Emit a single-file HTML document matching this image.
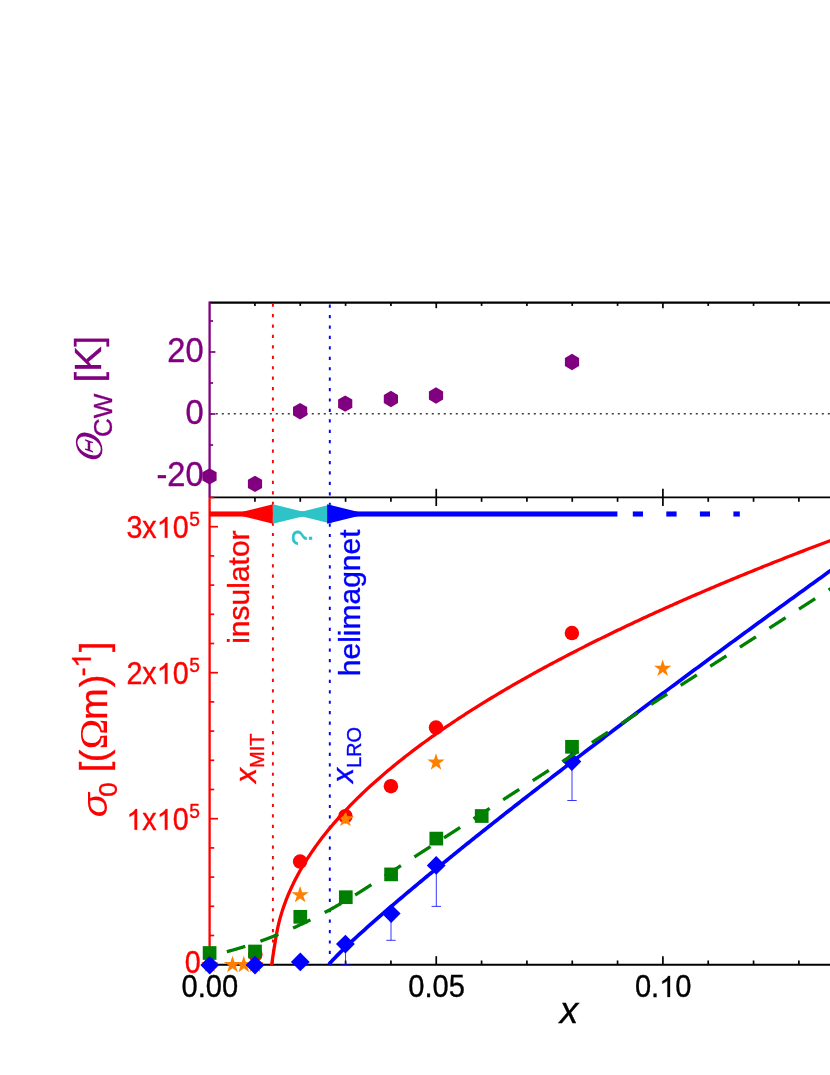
<!DOCTYPE html>
<html><head><meta charset="utf-8"><title>figure</title>
<style>html,body{margin:0;padding:0;background:#fff;}body{width:830px;height:1075px;overflow:hidden;font-family:"Liberation Sans",sans-serif;}svg{display:block;position:absolute;left:0;top:0;will-change:transform;}text{font-family:"Liberation Sans",sans-serif;}.se{font-family:"Liberation Serif",serif;}</style></head><body>
<svg width="830" height="1075" viewBox="0 0 830 1075">
<rect x="0" y="0" width="830" height="1075" fill="#ffffff"/>
<line x1="209.6" y1="302.6" x2="830" y2="302.6" stroke="#000" stroke-width="2.3"/>
<line x1="254.93" y1="302.6" x2="254.93" y2="305.9" stroke="#000" stroke-width="1.7"/>
<line x1="300.26" y1="302.6" x2="300.26" y2="305.9" stroke="#000" stroke-width="1.7"/>
<line x1="345.59" y1="302.6" x2="345.59" y2="305.9" stroke="#000" stroke-width="1.7"/>
<line x1="390.92" y1="302.6" x2="390.92" y2="305.9" stroke="#000" stroke-width="1.7"/>
<line x1="436.25" y1="302.6" x2="436.25" y2="308.2" stroke="#000" stroke-width="1.7"/>
<line x1="481.58" y1="302.6" x2="481.58" y2="305.9" stroke="#000" stroke-width="1.7"/>
<line x1="526.91" y1="302.6" x2="526.91" y2="305.9" stroke="#000" stroke-width="1.7"/>
<line x1="572.24" y1="302.6" x2="572.24" y2="305.9" stroke="#000" stroke-width="1.7"/>
<line x1="617.57" y1="302.6" x2="617.57" y2="305.9" stroke="#000" stroke-width="1.7"/>
<line x1="662.90" y1="302.6" x2="662.90" y2="308.2" stroke="#000" stroke-width="1.7"/>
<line x1="708.23" y1="302.6" x2="708.23" y2="305.9" stroke="#000" stroke-width="1.7"/>
<line x1="753.56" y1="302.6" x2="753.56" y2="305.9" stroke="#000" stroke-width="1.7"/>
<line x1="798.89" y1="302.6" x2="798.89" y2="305.9" stroke="#000" stroke-width="1.7"/>
<line x1="844.22" y1="302.6" x2="844.22" y2="305.9" stroke="#000" stroke-width="1.7"/>
<line x1="209.6" y1="497.3" x2="830" y2="497.3" stroke="#000" stroke-width="1.8"/>
<line x1="254.93" y1="497.3" x2="254.93" y2="501.8" stroke="#000" stroke-width="1.7"/>
<line x1="300.26" y1="497.3" x2="300.26" y2="501.8" stroke="#000" stroke-width="1.7"/>
<line x1="345.59" y1="497.3" x2="345.59" y2="501.8" stroke="#000" stroke-width="1.7"/>
<line x1="390.92" y1="497.3" x2="390.92" y2="501.8" stroke="#000" stroke-width="1.7"/>
<line x1="436.25" y1="488.8" x2="436.25" y2="506.0" stroke="#000" stroke-width="1.7"/>
<line x1="481.58" y1="497.3" x2="481.58" y2="501.8" stroke="#000" stroke-width="1.7"/>
<line x1="526.91" y1="497.3" x2="526.91" y2="501.8" stroke="#000" stroke-width="1.7"/>
<line x1="572.24" y1="497.3" x2="572.24" y2="501.8" stroke="#000" stroke-width="1.7"/>
<line x1="617.57" y1="497.3" x2="617.57" y2="501.8" stroke="#000" stroke-width="1.7"/>
<line x1="662.90" y1="488.8" x2="662.90" y2="506.0" stroke="#000" stroke-width="1.7"/>
<line x1="708.23" y1="497.3" x2="708.23" y2="501.8" stroke="#000" stroke-width="1.7"/>
<line x1="753.56" y1="497.3" x2="753.56" y2="501.8" stroke="#000" stroke-width="1.7"/>
<line x1="798.89" y1="497.3" x2="798.89" y2="501.8" stroke="#000" stroke-width="1.7"/>
<line x1="844.22" y1="497.3" x2="844.22" y2="501.8" stroke="#000" stroke-width="1.7"/>
<line x1="209.6" y1="964.7" x2="830" y2="964.7" stroke="#000" stroke-width="2.0"/>
<line x1="254.93" y1="964.7" x2="254.93" y2="960.5" stroke="#000" stroke-width="1.7"/>
<line x1="300.26" y1="964.7" x2="300.26" y2="960.5" stroke="#000" stroke-width="1.7"/>
<line x1="345.59" y1="964.7" x2="345.59" y2="960.5" stroke="#000" stroke-width="1.7"/>
<line x1="390.92" y1="964.7" x2="390.92" y2="960.5" stroke="#000" stroke-width="1.7"/>
<line x1="436.25" y1="964.7" x2="436.25" y2="956.2" stroke="#000" stroke-width="1.7"/>
<line x1="481.58" y1="964.7" x2="481.58" y2="960.5" stroke="#000" stroke-width="1.7"/>
<line x1="526.91" y1="964.7" x2="526.91" y2="960.5" stroke="#000" stroke-width="1.7"/>
<line x1="572.24" y1="964.7" x2="572.24" y2="960.5" stroke="#000" stroke-width="1.7"/>
<line x1="617.57" y1="964.7" x2="617.57" y2="960.5" stroke="#000" stroke-width="1.7"/>
<line x1="662.90" y1="964.7" x2="662.90" y2="956.2" stroke="#000" stroke-width="1.7"/>
<line x1="708.23" y1="964.7" x2="708.23" y2="960.5" stroke="#000" stroke-width="1.7"/>
<line x1="753.56" y1="964.7" x2="753.56" y2="960.5" stroke="#000" stroke-width="1.7"/>
<line x1="798.89" y1="964.7" x2="798.89" y2="960.5" stroke="#000" stroke-width="1.7"/>
<line x1="844.22" y1="964.7" x2="844.22" y2="960.5" stroke="#000" stroke-width="1.7"/>
<line x1="209.6" y1="301.5" x2="209.6" y2="498.3" stroke="#800080" stroke-width="2.3"/>
<line x1="209.6" y1="498.3" x2="209.6" y2="965.7" stroke="#ff0000" stroke-width="2.3"/>
<line x1="209.6" y1="476.00" x2="215.4" y2="476.00" stroke="#800080" stroke-width="1.7"/>
<line x1="209.6" y1="445.00" x2="213.1" y2="445.00" stroke="#800080" stroke-width="1.7"/>
<line x1="209.6" y1="414.00" x2="215.4" y2="414.00" stroke="#800080" stroke-width="1.7"/>
<line x1="209.6" y1="383.00" x2="213.1" y2="383.00" stroke="#800080" stroke-width="1.7"/>
<line x1="209.6" y1="352.00" x2="215.4" y2="352.00" stroke="#800080" stroke-width="1.7"/>
<line x1="209.6" y1="321.00" x2="213.1" y2="321.00" stroke="#800080" stroke-width="1.7"/>
<line x1="209.6" y1="964.70" x2="218.0" y2="964.70" stroke="#ff0000" stroke-width="1.7"/>
<line x1="209.6" y1="935.50" x2="214.2" y2="935.50" stroke="#ff0000" stroke-width="1.7"/>
<line x1="209.6" y1="906.30" x2="214.2" y2="906.30" stroke="#ff0000" stroke-width="1.7"/>
<line x1="209.6" y1="877.10" x2="214.2" y2="877.10" stroke="#ff0000" stroke-width="1.7"/>
<line x1="209.6" y1="847.90" x2="214.2" y2="847.90" stroke="#ff0000" stroke-width="1.7"/>
<line x1="209.6" y1="818.70" x2="218.0" y2="818.70" stroke="#ff0000" stroke-width="1.7"/>
<line x1="209.6" y1="789.50" x2="214.2" y2="789.50" stroke="#ff0000" stroke-width="1.7"/>
<line x1="209.6" y1="760.30" x2="214.2" y2="760.30" stroke="#ff0000" stroke-width="1.7"/>
<line x1="209.6" y1="731.10" x2="214.2" y2="731.10" stroke="#ff0000" stroke-width="1.7"/>
<line x1="209.6" y1="701.90" x2="214.2" y2="701.90" stroke="#ff0000" stroke-width="1.7"/>
<line x1="209.6" y1="672.70" x2="218.0" y2="672.70" stroke="#ff0000" stroke-width="1.7"/>
<line x1="209.6" y1="643.50" x2="214.2" y2="643.50" stroke="#ff0000" stroke-width="1.7"/>
<line x1="209.6" y1="614.30" x2="214.2" y2="614.30" stroke="#ff0000" stroke-width="1.7"/>
<line x1="209.6" y1="585.10" x2="214.2" y2="585.10" stroke="#ff0000" stroke-width="1.7"/>
<line x1="209.6" y1="555.90" x2="214.2" y2="555.90" stroke="#ff0000" stroke-width="1.7"/>
<line x1="209.6" y1="526.70" x2="218.0" y2="526.70" stroke="#ff0000" stroke-width="1.7"/>
<line x1="209.6" y1="497.50" x2="214.2" y2="497.50" stroke="#ff0000" stroke-width="1.7"/>
<line x1="209.6" y1="413.8" x2="830" y2="413.8" stroke="#3a3a3a" stroke-width="1.6" stroke-dasharray="2 4" stroke-dashoffset="-0.2"/>
<line x1="272.9" y1="303.6" x2="272.9" y2="965" stroke="#ff0000" stroke-width="1.9" stroke-dasharray="3.2 7.223"/>
<line x1="329.8" y1="304.6" x2="329.8" y2="965" stroke="#0000ff" stroke-width="1.9" stroke-dasharray="3.2 7.223"/>
<g id="markers">
<circle cx="255.3" cy="954.6" r="7.25" fill="#ff0000"/>
<circle cx="300.1" cy="861.6" r="7.25" fill="#ff0000"/>
<circle cx="345.4" cy="816.2" r="7.25" fill="#ff0000"/>
<circle cx="390.9" cy="786.2" r="7.25" fill="#ff0000"/>
<circle cx="436.0" cy="727.6" r="7.25" fill="#ff0000"/>
<circle cx="571.9" cy="633.1" r="7.25" fill="#ff0000"/>
<polygon points="209.80,955.60 207.76,961.89 201.15,961.89 206.49,965.77 204.45,972.06 209.80,968.18 215.15,972.06 213.11,965.77 218.45,961.89 211.84,961.89" fill="#ff8000"/>
<polygon points="232.50,955.70 230.46,961.99 223.85,961.99 229.19,965.87 227.15,972.16 232.50,968.28 237.85,972.16 235.81,965.87 241.15,961.99 234.54,961.99" fill="#ff8000"/>
<polygon points="243.80,955.70 241.76,961.99 235.15,961.99 240.49,965.87 238.45,972.16 243.80,968.28 249.15,972.16 247.11,965.87 252.45,961.99 245.84,961.99" fill="#ff8000"/>
<polygon points="255.10,955.60 253.06,961.89 246.45,961.89 251.79,965.77 249.75,972.06 255.10,968.18 260.45,972.06 258.41,965.77 263.75,961.89 257.14,961.89" fill="#ff8000"/>
<polygon points="300.10,885.90 298.06,892.19 291.45,892.19 296.79,896.07 294.75,902.36 300.10,898.48 305.45,902.36 303.41,896.07 308.75,892.19 302.14,892.19" fill="#ff8000"/>
<polygon points="345.40,809.90 343.36,816.19 336.75,816.19 342.09,820.07 340.05,826.36 345.40,822.48 350.75,826.36 348.71,820.07 354.05,816.19 347.44,816.19" fill="#ff8000"/>
<polygon points="436.00,753.30 433.96,759.59 427.35,759.59 432.69,763.47 430.65,769.76 436.00,765.88 441.35,769.76 439.31,763.47 444.65,759.59 438.04,759.59" fill="#ff8000"/>
<polygon points="662.70,659.50 660.66,665.79 654.05,665.79 659.39,669.67 657.35,675.96 662.70,672.08 668.05,675.96 666.01,669.67 671.35,665.79 664.74,665.79" fill="#ff8000"/>
<rect x="202.75" y="946.15" width="13.7" height="13.7" fill="#008000"/>
<rect x="248.15" y="944.65" width="13.7" height="13.7" fill="#008000"/>
<rect x="293.45" y="909.95" width="13.7" height="13.7" fill="#008000"/>
<rect x="338.95" y="890.35" width="13.7" height="13.7" fill="#008000"/>
<rect x="384.25" y="867.55" width="13.7" height="13.7" fill="#008000"/>
<rect x="429.45" y="831.75" width="13.7" height="13.7" fill="#008000"/>
<rect x="474.85" y="809.15" width="13.7" height="13.7" fill="#008000"/>
<rect x="565.15" y="739.95" width="13.7" height="13.7" fill="#008000"/>
<path d="M345.55 944.1V964.7M340.85 964.7H350.25" stroke="#0000ff" stroke-opacity="0.78" stroke-width="1.0" fill="none"/>
<path d="M391.0 913.6V940.3M386.3 940.3H395.7" stroke="#0000ff" stroke-opacity="0.78" stroke-width="1.0" fill="none"/>
<path d="M436.3 865.4V906.4M431.6 906.4H441.0" stroke="#0000ff" stroke-opacity="0.78" stroke-width="1.0" fill="none"/>
<path d="M572.0 761.6V800.5M567.3 800.5H576.7" stroke="#0000ff" stroke-opacity="0.78" stroke-width="1.0" fill="none"/>
<polygon points="209.7,955.7 219.1,965.1 209.7,974.5 200.29999999999998,965.1" fill="#0000ff"/>
<polygon points="255.0,955.7 264.4,965.1 255.0,974.5 245.6,965.1" fill="#0000ff"/>
<polygon points="300.3,952.5 309.7,961.9 300.3,971.3 290.90000000000003,961.9" fill="#0000ff"/>
<polygon points="345.4,934.7 354.79999999999995,944.1 345.4,953.5 336.0,944.1" fill="#0000ff"/>
<polygon points="391.2,904.2 400.59999999999997,913.6 391.2,923.0 381.8,913.6" fill="#0000ff"/>
<polygon points="436.2,856.0 445.59999999999997,865.4 436.2,874.8 426.8,865.4" fill="#0000ff"/>
<polygon points="571.9,752.2 581.3,761.6 571.9,771.0 562.5,761.6" fill="#0000ff"/>
</g>
<path d="M271.70 965.10 L271.76 964.30 L271.87 963.50 L271.98 962.70 L272.10 961.90 L272.21 961.10 L272.32 960.30 L272.44 959.50 L272.56 958.70 L272.67 957.90 L272.79 957.10 L272.91 956.30 L273.03 955.50 L273.15 954.70 L273.27 953.90 L273.39 953.10 L273.51 952.30 L273.63 951.50 L273.76 950.70 L273.88 949.90 L274.01 949.10 L274.13 948.30 L274.26 947.50 L274.39 946.70 L274.52 945.90 L274.65 945.10 L274.78 944.30 L274.91 943.50 L275.04 942.70 L275.17 941.90 L275.30 941.10 L275.44 940.30 L275.57 939.50 L275.71 938.70 L275.84 937.90 L275.98 937.10 L276.12 936.30 L276.26 935.50 L276.56 933.80 L277.06 931.16 L277.56 928.71 L278.06 926.42 L278.56 924.26 L279.06 922.22 L279.56 920.27 L280.06 918.41 L280.56 916.62 L281.06 914.90 L281.56 913.23 L282.06 911.62 L282.56 910.06 L283.06 908.54 L283.56 907.06 L284.06 905.63 L284.56 904.22 L285.06 902.85 L285.56 901.51 L286.06 900.20 L286.56 898.91 L287.06 897.65 L287.56 896.42 L288.06 895.20 L288.56 894.01 L289.06 892.84 L289.56 891.68 L290.06 890.55 L290.56 889.43 L291.06 888.33 L291.56 887.25 L292.06 886.18 L292.56 885.13 L293.06 884.09 L293.56 883.06 L294.06 882.05 L294.56 881.05 L295.06 880.06 L295.56 879.08 L296.06 878.12 L296.56 877.16 L297.06 876.22 L297.56 875.28 L298.06 874.36 L298.56 873.44 L299.06 872.54 L299.56 871.64 L300.06 870.76 L302.06 867.29 L304.06 863.95 L306.06 860.71 L308.06 857.58 L310.06 854.54 L312.06 851.58 L314.06 848.70 L316.06 845.89 L318.06 843.14 L320.06 840.46 L322.06 837.84 L324.06 835.27 L326.06 832.75 L328.06 830.29 L330.06 827.86 L332.06 825.48 L334.06 823.14 L336.06 820.84 L338.06 818.58 L340.06 816.35 L342.06 814.16 L344.06 812.00 L346.06 809.87 L348.06 807.77 L350.06 805.70 L352.06 803.65 L354.06 801.63 L356.06 799.64 L358.06 797.67 L360.06 795.73 L362.06 793.80 L364.06 791.90 L366.06 790.02 L368.06 788.16 L370.06 786.32 L372.06 784.51 L374.06 782.70 L376.06 780.92 L378.06 779.16 L380.06 777.41 L382.06 775.68 L384.06 773.96 L386.06 772.26 L388.06 770.57 L390.06 768.90 L392.06 767.25 L394.06 765.61 L396.06 763.98 L398.06 762.37 L400.06 760.77 L402.06 759.18 L404.06 757.60 L406.06 756.04 L408.06 754.49 L410.06 752.95 L412.06 751.42 L414.06 749.90 L416.06 748.39 L418.06 746.90 L420.06 745.41 L422.06 743.94 L424.06 742.47 L426.06 741.02 L428.06 739.57 L430.06 738.14 L432.06 736.71 L434.06 735.29 L436.06 733.88 L438.06 732.48 L440.06 731.09 L442.06 729.71 L444.06 728.34 L446.06 726.97 L448.06 725.61 L450.06 724.26 L452.06 722.92 L454.06 721.58 L456.06 720.25 L458.06 718.93 L460.06 717.62 L462.06 716.31 L464.06 715.02 L466.06 713.72 L468.06 712.44 L470.06 711.16 L472.06 709.89 L474.06 708.62 L476.06 707.36 L478.06 706.11 L480.06 704.86 L482.06 703.62 L484.06 702.39 L486.06 701.16 L488.06 699.94 L490.06 698.72 L492.06 697.51 L494.06 696.30 L496.06 695.10 L498.06 693.91 L500.06 692.72 L502.06 691.53 L504.06 690.36 L506.06 689.18 L508.06 688.01 L510.06 686.85 L512.06 685.69 L514.06 684.54 L516.06 683.39 L518.06 682.24 L520.06 681.11 L522.06 679.97 L524.06 678.84 L526.06 677.72 L528.06 676.59 L530.06 675.48 L532.06 674.37 L534.06 673.26 L536.06 672.16 L538.06 671.06 L540.06 669.96 L542.06 668.87 L544.06 667.78 L546.06 666.70 L548.06 665.62 L550.06 664.55 L552.06 663.48 L554.06 662.41 L556.06 661.35 L558.06 660.29 L560.06 659.23 L562.06 658.18 L564.06 657.13 L566.06 656.09 L568.06 655.05 L570.06 654.01 L572.06 652.98 L574.06 651.95 L576.06 650.92 L578.06 649.90 L580.06 648.88 L582.06 647.86 L584.06 646.85 L586.06 645.84 L588.06 644.83 L590.06 643.83 L592.06 642.83 L594.06 641.83 L596.06 640.84 L598.06 639.85 L600.06 638.86 L602.06 637.88 L604.06 636.90 L606.06 635.92 L608.06 634.94 L610.06 633.97 L612.06 633.00 L614.06 632.03 L616.06 631.07 L618.06 630.11 L620.06 629.15 L622.06 628.20 L624.06 627.24 L626.06 626.29 L628.06 625.35 L630.06 624.40 L632.06 623.46 L634.06 622.52 L636.06 621.59 L638.06 620.65 L640.06 619.72 L642.06 618.79 L644.06 617.87 L646.06 616.94 L648.06 616.02 L650.06 615.10 L652.06 614.19 L654.06 613.27 L656.06 612.36 L658.06 611.45 L660.06 610.55 L662.06 609.64 L664.06 608.74 L666.06 607.84 L668.06 606.95 L670.06 606.05 L672.06 605.16 L674.06 604.27 L676.06 603.38 L678.06 602.50 L680.06 601.61 L682.06 600.73 L684.06 599.85 L686.06 598.98 L688.06 598.10 L690.06 597.23 L692.06 596.36 L694.06 595.49 L696.06 594.62 L698.06 593.76 L700.06 592.90 L702.06 592.04 L704.06 591.18 L706.06 590.32 L708.06 589.47 L710.06 588.62 L712.06 587.77 L714.06 586.92 L716.06 586.07 L718.06 585.23 L720.06 584.39 L722.06 583.55 L724.06 582.71 L726.06 581.87 L728.06 581.04 L730.06 580.20 L732.06 579.37 L734.06 578.54 L736.06 577.72 L738.06 576.89 L740.06 576.07 L742.06 575.24 L744.06 574.42 L746.06 573.61 L748.06 572.79 L750.06 571.97 L752.06 571.16 L754.06 570.35 L756.06 569.54 L758.06 568.73 L760.06 567.93 L762.06 567.12 L764.06 566.32 L766.06 565.52 L768.06 564.72 L770.06 563.92 L772.06 563.12 L774.06 562.33 L776.06 561.53 L778.06 560.74 L780.06 559.95 L782.06 559.16 L784.06 558.38 L786.06 557.59 L788.06 556.81 L790.06 556.03 L792.06 555.24 L794.06 554.47 L796.06 553.69 L798.06 552.91 L800.06 552.14 L802.06 551.36 L804.06 550.59 L806.06 549.82 L808.06 549.05 L810.06 548.29 L812.06 547.52 L814.06 546.76 L816.06 545.99 L818.06 545.23 L820.06 544.47 L822.06 543.71 L824.06 542.95 L826.06 542.20 L828.06 541.44 L830.06 540.69 L832.06 539.94 L834.06 539.19" fill="none" stroke="#ff0000" stroke-width="3.3" stroke-linejoin="round"/>
<path d="M328.80 964.70 L330.80 962.22 L332.80 960.01 L334.80 957.90 L336.80 955.84 L338.80 953.83 L340.80 951.85 L342.80 949.90 L344.80 947.97 L346.80 946.06 L348.80 944.17 L350.80 942.30 L352.80 940.44 L354.80 938.59 L356.80 936.76 L358.80 934.93 L360.80 933.12 L362.80 931.31 L364.80 929.51 L366.80 927.72 L368.80 925.94 L370.80 924.17 L372.80 922.40 L374.80 920.64 L376.80 918.89 L378.80 917.14 L380.80 915.40 L382.80 913.67 L384.80 911.94 L386.80 910.21 L388.80 908.49 L390.80 906.77 L392.80 905.06 L394.80 903.36 L396.80 901.65 L398.80 899.95 L400.80 898.26 L402.80 896.57 L404.80 894.88 L406.80 893.20 L408.80 891.52 L410.80 889.84 L412.80 888.17 L414.80 886.50 L416.80 884.84 L418.80 883.17 L420.80 881.51 L422.80 879.86 L424.80 878.20 L426.80 876.55 L428.80 874.90 L430.80 873.26 L432.80 871.62 L434.80 869.98 L436.80 868.34 L438.80 866.70 L440.80 865.07 L442.80 863.44 L444.80 861.81 L446.80 860.19 L448.80 858.56 L450.80 856.94 L452.80 855.32 L454.80 853.71 L456.80 852.09 L458.80 850.48 L460.80 848.87 L462.80 847.26 L464.80 845.66 L466.80 844.05 L468.80 842.45 L470.80 840.85 L472.80 839.25 L474.80 837.65 L476.80 836.06 L478.80 834.46 L480.80 832.87 L482.80 831.28 L484.80 829.69 L486.80 828.11 L488.80 826.52 L490.80 824.94 L492.80 823.36 L494.80 821.78 L496.80 820.20 L498.80 818.62 L500.80 817.05 L502.80 815.48 L504.80 813.90 L506.80 812.33 L508.80 810.76 L510.80 809.20 L512.80 807.63 L514.80 806.06 L516.80 804.50 L518.80 802.94 L520.80 801.38 L522.80 799.82 L524.80 798.26 L526.80 796.70 L528.80 795.15 L530.80 793.59 L532.80 792.04 L534.80 790.49 L536.80 788.94 L538.80 787.39 L540.80 785.84 L542.80 784.30 L544.80 782.75 L546.80 781.21 L548.80 779.66 L550.80 778.12 L552.80 776.58 L554.80 775.04 L556.80 773.50 L558.80 771.97 L560.80 770.43 L562.80 768.89 L564.80 767.36 L566.80 765.83 L568.80 764.29 L570.80 762.76 L572.80 761.23 L574.80 759.70 L576.80 758.18 L578.80 756.65 L580.80 755.12 L582.80 753.60 L584.80 752.08 L586.80 750.55 L588.80 749.03 L590.80 747.51 L592.80 745.99 L594.80 744.47 L596.80 742.95 L598.80 741.44 L600.80 739.92 L602.80 738.41 L604.80 736.89 L606.80 735.38 L608.80 733.87 L610.80 732.35 L612.80 730.84 L614.80 729.33 L616.80 727.83 L618.80 726.32 L620.80 724.81 L622.80 723.30 L624.80 721.80 L626.80 720.29 L628.80 718.79 L630.80 717.29 L632.80 715.79 L634.80 714.28 L636.80 712.78 L638.80 711.28 L640.80 709.78 L642.80 708.29 L644.80 706.79 L646.80 705.29 L648.80 703.80 L650.80 702.30 L652.80 700.81 L654.80 699.31 L656.80 697.82 L658.80 696.33 L660.80 694.84 L662.80 693.35 L664.80 691.86 L666.80 690.37 L668.80 688.88 L670.80 687.39 L672.80 685.91 L674.80 684.42 L676.80 682.94 L678.80 681.45 L680.80 679.97 L682.80 678.49 L684.80 677.00 L686.80 675.52 L688.80 674.04 L690.80 672.56 L692.80 671.08 L694.80 669.60 L696.80 668.12 L698.80 666.64 L700.80 665.17 L702.80 663.69 L704.80 662.22 L706.80 660.74 L708.80 659.27 L710.80 657.79 L712.80 656.32 L714.80 654.85 L716.80 653.37 L718.80 651.90 L720.80 650.43 L722.80 648.96 L724.80 647.49 L726.80 646.02 L728.80 644.56 L730.80 643.09 L732.80 641.62 L734.80 640.16 L736.80 638.69 L738.80 637.22 L740.80 635.76 L742.80 634.30 L744.80 632.83 L746.80 631.37 L748.80 629.91 L750.80 628.45 L752.80 626.98 L754.80 625.52 L756.80 624.06 L758.80 622.61 L760.80 621.15 L762.80 619.69 L764.80 618.23 L766.80 616.77 L768.80 615.32 L770.80 613.86 L772.80 612.41 L774.80 610.95 L776.80 609.50 L778.80 608.04 L780.80 606.59 L782.80 605.14 L784.80 603.68 L786.80 602.23 L788.80 600.78 L790.80 599.33 L792.80 597.88 L794.80 596.43 L796.80 594.98 L798.80 593.53 L800.80 592.08 L802.80 590.64 L804.80 589.19 L806.80 587.74 L808.80 586.30 L810.80 584.85 L812.80 583.41 L814.80 581.96 L816.80 580.52 L818.80 579.07 L820.80 577.63 L822.80 576.19 L824.80 574.75 L826.80 573.31 L828.80 571.86 L830.80 570.42 L832.80 568.98 L834.80 567.54" fill="none" stroke="#0000ff" stroke-width="3.7" stroke-linejoin="round"/>
<path d="M209.60 955.87 L210.10 955.76 L210.60 955.65 L211.10 955.54 L211.60 955.43 L212.10 955.32 L212.60 955.20 L213.10 955.09 L213.60 954.98 L214.10 954.86 L214.60 954.74 L215.10 954.63 L215.60 954.51 L216.10 954.39 L216.60 954.27 L217.10 954.15 L217.60 954.03 L218.10 953.91 L218.60 953.79 L219.10 953.67 L219.60 953.55 L220.10 953.42 L220.60 953.30 L221.10 953.17 L221.60 953.05 L222.10 952.92 L222.60 952.79 L223.10 952.67 L223.60 952.54 L224.10 952.41 L224.60 952.28 L225.10 952.15 L225.60 952.02 L226.10 951.89 L226.60 951.75 L227.10 951.62 L227.60 951.49 L228.10 951.35 L228.60 951.22 L229.10 951.08 L229.60 950.95 L230.10 950.81 L230.60 950.67 L231.10 950.53 L231.60 950.39 L232.10 950.25 L232.60 950.11 L233.10 949.97 L233.60 949.83 L234.10 949.69 L234.60 949.54 L235.10 949.40 L235.60 949.25 L236.10 949.11 L236.60 948.96 L237.10 948.81 L237.60 948.67 L238.10 948.52 L238.60 948.37 L239.10 948.22 L239.60 948.07 L240.10 947.92 L240.60 947.77 L241.10 947.62 L241.60 947.46 L242.10 947.31 L242.60 947.15 L243.10 947.00 L243.60 946.84 L244.10 946.69 L244.60 946.53 L245.10 946.37 L245.60 946.21 L246.10 946.06 L246.60 945.90 L247.10 945.73 L247.60 945.57 L248.10 945.41 L248.60 945.25 L249.10 945.09 L249.60 944.92 L250.10 944.76 L250.60 944.59 L251.10 944.43 L251.60 944.26 L252.10 944.09 L252.60 943.92 L253.10 943.76 L253.60 943.59 L254.10 943.42 L254.60 943.25 L255.10 943.07 L255.60 942.90 L256.10 942.73 L256.60 942.56 L257.10 942.38 L257.60 942.21 L258.10 942.03 L258.60 941.85 L259.10 941.68 L259.60 941.50 L260.10 941.32 L260.60 941.14 L261.10 940.96 L261.60 940.78 L262.10 940.60 L262.60 940.42 L263.10 940.24 L263.60 940.05 L264.10 939.87 L264.60 939.69 L265.10 939.50 L265.60 939.31 L266.10 939.13 L266.60 938.94 L267.10 938.75 L267.60 938.56 L268.10 938.38 L268.60 938.19 L269.10 938.00 L269.60 937.80 L270.10 937.61 L270.60 937.42 L271.10 937.23 L271.60 937.03 L272.10 936.84 L272.60 936.64 L273.10 936.45 L273.60 936.25 L274.10 936.05 L274.60 935.85 L275.10 935.65 L275.60 935.45 L276.10 935.25 L276.60 935.05 L277.10 934.85 L277.60 934.65 L278.10 934.45 L278.60 934.24 L279.10 934.04 L279.60 933.83 L280.10 933.63 L280.60 933.42 L281.10 933.21 L281.60 933.01 L282.10 932.80 L282.60 932.59 L283.10 932.38 L283.60 932.17 L284.10 931.96 L284.60 931.75 L285.10 931.53 L285.60 931.32 L286.10 931.11 L286.60 930.89 L287.10 930.68 L287.60 930.46 L288.10 930.24 L288.60 930.03 L289.10 929.81 L289.60 929.59 L290.10 929.37 L290.60 929.15 L291.10 928.93 L291.60 928.71 L292.10 928.49 L292.60 928.26 L293.10 928.04 L293.60 927.82 L294.10 927.59 L294.60 927.37 L295.10 927.14 L295.60 926.91 L296.10 926.69 L296.60 926.46 L297.10 926.23 L297.60 926.00 L298.10 925.77 L298.60 925.54 L299.10 925.31 L299.60 925.07 L300.10 924.84 L300.60 924.61 L301.10 924.37 L301.60 924.14 L302.10 923.90 L302.60 923.66 L303.10 923.43 L303.60 923.19 L304.10 922.95 L304.60 922.71 L305.10 922.47 L305.60 922.23 L306.10 921.99 L306.60 921.75 L307.10 921.51 L307.60 921.26 L308.10 921.02 L308.60 920.77 L309.10 920.53 L309.60 920.28 L310.10 920.03 L310.60 919.79 L311.10 919.54 L311.60 919.29 L312.10 919.04 L312.60 918.79 L313.10 918.54 L313.60 918.29 L314.10 918.04 L314.60 917.78 L315.10 917.53 L315.60 917.28 L316.10 917.02 L316.60 916.76 L317.10 916.51 L317.60 916.25 L318.10 915.99 L318.60 915.74 L319.10 915.48 L319.60 915.22 L320.10 914.96 L320.60 914.69 L321.10 914.43 L321.60 914.17 L322.10 913.91 L322.60 913.64 L323.10 913.38 L323.60 913.11 L324.10 912.85 L324.60 912.58 L325.10 912.31 L325.60 912.05 L326.10 911.78 L326.60 911.51 L327.10 911.24 L327.60 910.97 L328.10 910.70 L328.60 910.42 L329.10 910.15 L329.60 909.88 L330.10 909.60 L330.60 909.33 L331.10 909.05 L331.60 908.78 L332.10 908.50 L332.60 908.22 L333.10 907.94 L333.60 907.67 L334.10 907.39 L334.60 907.11 L335.10 906.82 L335.60 906.54 L336.10 906.26 L336.60 905.98 L337.10 905.69 L337.60 905.41 L338.10 905.12 L338.60 904.84 L339.10 904.55 L339.60 904.26 L340.10 903.98 L340.60 903.69 L341.10 903.40 L341.60 903.11 L342.10 902.82 L342.60 902.53 L343.10 902.24 L343.60 901.94 L344.10 901.65 L344.60 901.36 L345.10 901.06 L345.60 900.77 L346.10 900.47 L346.60 900.17 L347.10 899.88 L347.60 899.58 L348.10 899.28 L348.60 898.98 L349.10 898.68 L349.60 898.38 L350.10 898.08 L350.60 897.77 L351.10 897.47 L351.60 897.17 L352.10 896.86 L352.60 896.56 L353.10 896.25 L353.60 895.95 L354.10 895.64 L354.60 895.33 L355.10 895.02 L355.60 894.72 L356.10 894.41 L356.60 894.10 L357.10 893.78 L357.60 893.47 L358.10 893.16 L358.60 892.85 L359.10 892.53 L359.60 892.22 L360.10 891.90 L360.60 891.59 L361.10 891.27 L361.60 890.95 L362.10 890.64 L362.60 890.32 L363.10 890.00 L363.60 889.68 L364.10 889.36 L364.60 889.04 L365.10 888.71 L365.60 888.39 L366.10 888.07 L366.60 887.75 L367.10 887.42 L367.60 887.10 L368.10 886.78 L368.60 886.46 L369.10 886.14 L369.60 885.81 L370.10 885.49 L370.60 885.17 L371.10 884.85 L371.60 884.52 L372.10 884.20 L372.60 883.88 L373.10 883.56 L373.60 883.24 L374.10 882.91 L374.60 882.59 L375.10 882.27 L375.60 881.95 L376.10 881.62 L376.60 881.30 L377.10 880.98 L377.60 880.66 L378.10 880.33 L378.60 880.01 L379.10 879.69 L379.60 879.37 L380.10 879.05 L380.60 878.72 L381.10 878.40 L381.60 878.08 L382.10 877.76 L382.60 877.43 L383.10 877.11 L383.60 876.79 L384.10 876.47 L384.60 876.15 L385.10 875.82 L385.60 875.50 L386.10 875.18 L386.60 874.86 L387.10 874.53 L387.60 874.21 L388.10 873.89 L388.60 873.57 L389.10 873.25 L389.60 872.92 L390.10 872.60 L390.60 872.28 L391.10 871.96 L391.60 871.63 L392.10 871.31 L392.60 870.99 L393.10 870.67 L393.60 870.35 L394.10 870.02 L394.60 869.70 L395.10 869.38 L395.60 869.06 L396.10 868.73 L396.60 868.41 L397.10 868.09 L397.60 867.77 L398.10 867.44 L398.60 867.12 L399.10 866.80 L399.60 866.48 L400.10 866.16 L400.60 865.83 L401.10 865.51 L401.60 865.19 L402.10 864.87 L402.60 864.54 L403.10 864.22 L403.60 863.90 L404.10 863.58 L404.60 863.26 L405.10 862.93 L405.60 862.61 L406.10 862.29 L406.60 861.97 L407.10 861.64 L407.60 861.32 L408.10 861.00 L408.60 860.68 L409.10 860.36 L409.60 860.03 L410.10 859.71 L410.60 859.39 L411.10 859.07 L411.60 858.74 L412.10 858.42 L412.60 858.10 L413.10 857.78 L413.60 857.46 L414.10 857.13 L414.60 856.81 L415.10 856.49 L415.60 856.17 L416.10 855.84 L416.60 855.52 L417.10 855.20 L417.60 854.88 L418.10 854.55 L418.60 854.23 L419.10 853.91 L419.60 853.59 L420.10 853.27 L420.60 852.94 L421.10 852.62 L421.60 852.30 L422.10 851.98 L422.60 851.65 L423.10 851.33 L423.60 851.01 L424.10 850.69 L424.60 850.37 L425.10 850.04 L425.60 849.72 L426.10 849.40 L426.60 849.08 L427.10 848.75 L427.60 848.43 L428.10 848.11 L428.60 847.79 L429.10 847.47 L429.60 847.14 L430.10 846.82 L430.60 846.50 L431.10 846.18 L431.60 845.85 L432.10 845.53 L432.60 845.21 L433.10 844.89 L433.60 844.57 L434.10 844.24 L434.60 843.92 L435.10 843.60 L435.60 843.28 L436.10 842.95 L436.60 842.63 L437.10 842.31 L437.60 841.99 L438.10 841.66 L438.60 841.34 L439.10 841.02 L439.60 840.70 L440.10 840.38 L440.60 840.05 L441.10 839.73 L441.60 839.41 L442.10 839.09 L442.60 838.76 L443.10 838.44 L443.60 838.12 L444.10 837.80 L444.60 837.48 L445.10 837.15 L445.60 836.83 L446.10 836.51 L446.60 836.19 L447.10 835.86 L447.60 835.54 L448.10 835.22 L448.60 834.90 L449.10 834.58 L449.60 834.25 L450.10 833.93 L450.60 833.61 L451.10 833.29 L451.60 832.96 L452.10 832.64 L452.60 832.32 L453.10 832.00 L453.60 831.68 L454.10 831.35 L454.60 831.03 L455.10 830.71 L455.60 830.39 L456.10 830.06 L456.60 829.74 L457.10 829.42 L457.60 829.10 L458.10 828.77 L458.60 828.45 L459.10 828.13 L459.60 827.81 L460.10 827.49 L460.60 827.16 L461.10 826.84 L461.60 826.52 L462.10 826.20 L462.60 825.87 L463.10 825.55 L463.60 825.23 L464.10 824.91 L464.60 824.59 L465.10 824.26 L465.60 823.94 L466.10 823.62 L466.60 823.30 L467.10 822.97 L467.60 822.65 L468.10 822.33 L468.60 822.01 L469.10 821.69 L469.60 821.36 L470.10 821.04 L470.60 820.72 L471.10 820.40 L471.60 820.07 L472.10 819.75 L472.60 819.43 L473.10 819.11 L473.60 818.79 L474.10 818.46 L474.60 818.14 L475.10 817.82 L475.60 817.50 L476.10 817.17 L476.60 816.85 L477.10 816.53 L477.60 816.21 L478.10 815.88 L478.60 815.56 L479.10 815.24 L479.60 814.92 L480.10 814.60 L480.60 814.27 L481.10 813.95 L481.60 813.63 L482.10 813.31 L482.60 812.98 L483.10 812.66 L483.60 812.34 L484.10 812.02 L484.60 811.70 L485.10 811.37 L485.60 811.05 L486.10 810.73 L486.60 810.41 L487.10 810.08 L487.60 809.76 L488.10 809.44 L488.60 809.12 L489.10 808.80 L489.60 808.47 L490.10 808.15 L490.60 807.83 L491.10 807.51 L491.60 807.18 L492.10 806.86 L492.60 806.54 L493.10 806.22 L493.60 805.90 L494.10 805.57 L494.60 805.25 L495.10 804.93 L495.60 804.61 L496.10 804.28 L496.60 803.96 L497.10 803.64 L497.60 803.32 L498.10 802.99 L498.60 802.67 L499.10 802.35 L499.60 802.03 L500.10 801.71 L500.60 801.38 L501.10 801.06 L501.60 800.74 L502.10 800.42 L502.60 800.09 L503.10 799.77 L503.60 799.45 L504.10 799.13 L504.60 798.81 L505.10 798.48 L505.60 798.16 L506.10 797.84 L506.60 797.52 L507.10 797.19 L507.60 796.87 L508.10 796.55 L508.60 796.23 L509.10 795.91 L509.60 795.58 L510.10 795.26 L510.60 794.94 L511.10 794.62 L511.60 794.29 L512.10 793.97 L512.60 793.65 L513.10 793.33 L513.60 793.01 L514.10 792.68 L514.60 792.36 L515.10 792.04 L515.60 791.72 L516.10 791.39 L516.60 791.07 L517.10 790.75 L517.60 790.43 L518.10 790.10 L518.60 789.78 L519.10 789.46 L519.60 789.14 L520.10 788.82 L520.60 788.49 L521.10 788.17 L521.60 787.85 L522.10 787.53 L522.60 787.20 L523.10 786.88 L523.60 786.56 L524.10 786.24 L524.60 785.92 L525.10 785.59 L525.60 785.27 L526.10 784.95 L526.60 784.63 L527.10 784.30 L527.60 783.98 L528.10 783.66 L528.60 783.34 L529.10 783.02 L529.60 782.69 L530.10 782.37 L530.60 782.05 L531.10 781.73 L531.60 781.40 L532.10 781.08 L532.60 780.76 L533.10 780.44 L533.60 780.12 L534.10 779.79 L534.60 779.47 L535.10 779.15 L535.60 778.83 L536.10 778.50 L536.60 778.18 L537.10 777.86 L537.60 777.54 L538.10 777.21 L538.60 776.89 L539.10 776.57 L539.60 776.25 L540.10 775.93 L540.60 775.60 L541.10 775.28 L541.60 774.96 L542.10 774.64 L542.60 774.31 L543.10 773.99 L543.60 773.67 L544.10 773.35 L544.60 773.03 L545.10 772.70 L545.60 772.38 L546.10 772.06 L546.60 771.74 L547.10 771.41 L547.60 771.09 L548.10 770.77 L548.60 770.45 L549.10 770.13 L549.60 769.80 L550.10 769.48 L550.60 769.16 L551.10 768.84 L551.60 768.51 L552.10 768.19 L552.60 767.87 L553.10 767.55 L553.60 767.23 L554.10 766.90 L554.60 766.58 L555.10 766.26 L555.60 765.94 L556.10 765.61 L556.60 765.29 L557.10 764.97 L557.60 764.65 L558.10 764.32 L558.60 764.00 L559.10 763.68 L559.60 763.36 L560.10 763.04 L560.60 762.71 L561.10 762.39 L561.60 762.07 L562.10 761.75 L562.60 761.42 L563.10 761.10 L563.60 760.78 L564.10 760.46 L564.60 760.14 L565.10 759.81 L565.60 759.49 L566.10 759.17 L566.60 758.85 L567.10 758.52 L567.60 758.20 L568.10 757.88 L568.60 757.56 L569.10 757.24 L569.60 756.91 L570.10 756.59 L570.60 756.27 L571.10 755.95 L571.60 755.62 L572.10 755.30 L572.60 754.98 L573.10 754.66 L573.60 754.34 L574.10 754.01 L574.60 753.69 L575.10 753.37 L575.60 753.05 L576.10 752.72 L576.60 752.40 L577.10 752.08 L577.60 751.76 L578.10 751.43 L578.60 751.11 L579.10 750.79 L579.60 750.47 L580.10 750.15 L580.60 749.82 L581.10 749.50 L581.60 749.18 L582.10 748.86 L582.60 748.53 L583.10 748.21 L583.60 747.89 L584.10 747.57 L584.60 747.25 L585.10 746.92 L585.60 746.60 L586.10 746.28 L586.60 745.96 L587.10 745.63 L587.60 745.31 L588.10 744.99 L588.60 744.67 L589.10 744.35 L589.60 744.02 L590.10 743.70 L590.60 743.38 L591.10 743.06 L591.60 742.73 L592.10 742.41 L592.60 742.09 L593.10 741.77 L593.60 741.45 L594.10 741.12 L594.60 740.80 L595.10 740.48 L595.60 740.16 L596.10 739.83 L596.60 739.51 L597.10 739.19 L597.60 738.87 L598.10 738.54 L598.60 738.22 L599.10 737.90 L599.60 737.58 L600.10 737.26 L600.60 736.93 L601.10 736.61 L601.60 736.29 L602.10 735.97 L602.60 735.64 L603.10 735.32 L603.60 735.00 L604.10 734.68 L604.60 734.36 L605.10 734.03 L605.60 733.71 L606.10 733.39 L606.60 733.07 L607.10 732.74 L607.60 732.42 L608.10 732.10 L608.60 731.78 L609.10 731.46 L609.60 731.13 L610.10 730.81 L610.60 730.49 L611.10 730.17 L611.60 729.84 L612.10 729.52 L612.60 729.20 L613.10 728.88 L613.60 728.56 L614.10 728.23 L614.60 727.91 L615.10 727.59 L615.60 727.27 L616.10 726.94 L616.60 726.62 L617.10 726.30 L617.60 725.98 L618.10 725.65 L618.60 725.33 L619.10 725.01 L619.60 724.69 L620.10 724.37 L620.60 724.04 L621.10 723.72 L621.60 723.40 L622.10 723.08 L622.60 722.75 L623.10 722.43 L623.60 722.11 L624.10 721.79 L624.60 721.47 L625.10 721.14 L625.60 720.82 L626.10 720.50 L626.60 720.18 L627.10 719.85 L627.60 719.53 L628.10 719.21 L628.60 718.89 L629.10 718.57 L629.60 718.24 L630.10 717.92 L630.60 717.60 L631.10 717.28 L631.60 716.95 L632.10 716.63 L632.60 716.31 L633.10 715.99 L633.60 715.67 L634.10 715.34 L634.60 715.02 L635.10 714.70 L635.60 714.38 L636.10 714.05 L636.60 713.73 L637.10 713.41 L637.60 713.09 L638.10 712.76 L638.60 712.44 L639.10 712.12 L639.60 711.80 L640.10 711.48 L640.60 711.15 L641.10 710.83 L641.60 710.51 L642.10 710.19 L642.60 709.86 L643.10 709.54 L643.60 709.22 L644.10 708.90 L644.60 708.58 L645.10 708.25 L645.60 707.93 L646.10 707.61 L646.60 707.29 L647.10 706.96 L647.60 706.64 L648.10 706.32 L648.60 706.00 L649.10 705.68 L649.60 705.35 L650.10 705.03 L650.60 704.71 L651.10 704.39 L651.60 704.06 L652.10 703.74 L652.60 703.42 L653.10 703.10 L653.60 702.78 L654.10 702.45 L654.60 702.13 L655.10 701.81 L655.60 701.49 L656.10 701.16 L656.60 700.84 L657.10 700.52 L657.60 700.20 L658.10 699.87 L658.60 699.55 L659.10 699.23 L659.60 698.91 L660.10 698.59 L660.60 698.26 L661.10 697.94 L661.60 697.62 L662.10 697.30 L662.60 696.97 L663.10 696.65 L663.60 696.33 L664.10 696.01 L664.60 695.69 L665.10 695.36 L665.60 695.04 L666.10 694.72 L666.60 694.40 L667.10 694.07 L667.60 693.75 L668.10 693.43 L668.60 693.11 L669.10 692.79 L669.60 692.46 L670.10 692.14 L670.60 691.82 L671.10 691.50 L671.60 691.17 L672.10 690.85 L672.60 690.53 L673.10 690.21 L673.60 689.89 L674.10 689.56 L674.60 689.24 L675.10 688.92 L675.60 688.60 L676.10 688.27 L676.60 687.95 L677.10 687.63 L677.60 687.31 L678.10 686.98 L678.60 686.66 L679.10 686.34 L679.60 686.02 L680.10 685.70 L680.60 685.37 L681.10 685.05 L681.60 684.73 L682.10 684.41 L682.60 684.08 L683.10 683.76 L683.60 683.44 L684.10 683.12 L684.60 682.80 L685.10 682.47 L685.60 682.15 L686.10 681.83 L686.60 681.51 L687.10 681.18 L687.60 680.86 L688.10 680.54 L688.60 680.22 L689.10 679.90 L689.60 679.57 L690.10 679.25 L690.60 678.93 L691.10 678.61 L691.60 678.28 L692.10 677.96 L692.60 677.64 L693.10 677.32 L693.60 677.00 L694.10 676.67 L694.60 676.35 L695.10 676.03 L695.60 675.71 L696.10 675.38 L696.60 675.06 L697.10 674.74 L697.60 674.42 L698.10 674.09 L698.60 673.77 L699.10 673.45 L699.60 673.13 L700.10 672.81 L700.60 672.48 L701.10 672.16 L701.60 671.84 L702.10 671.52 L702.60 671.19 L703.10 670.87 L703.60 670.55 L704.10 670.23 L704.60 669.91 L705.10 669.58 L705.60 669.26 L706.10 668.94 L706.60 668.62 L707.10 668.29 L707.60 667.97 L708.10 667.65 L708.60 667.33 L709.10 667.01 L709.60 666.68 L710.10 666.36 L710.60 666.04 L711.10 665.72 L711.60 665.39 L712.10 665.07 L712.60 664.75 L713.10 664.43 L713.60 664.11 L714.10 663.78 L714.60 663.46 L715.10 663.14 L715.60 662.82 L716.10 662.49 L716.60 662.17 L717.10 661.85 L717.60 661.53 L718.10 661.20 L718.60 660.88 L719.10 660.56 L719.60 660.24 L720.10 659.92 L720.60 659.59 L721.10 659.27 L721.60 658.95 L722.10 658.63 L722.60 658.30 L723.10 657.98 L723.60 657.66 L724.10 657.34 L724.60 657.02 L725.10 656.69 L725.60 656.37 L726.10 656.05 L726.60 655.73 L727.10 655.40 L727.60 655.08 L728.10 654.76 L728.60 654.44 L729.10 654.12 L729.60 653.79 L730.10 653.47 L730.60 653.15 L731.10 652.83 L731.60 652.50 L732.10 652.18 L732.60 651.86 L733.10 651.54 L733.60 651.22 L734.10 650.89 L734.60 650.57 L735.10 650.25 L735.60 649.93 L736.10 649.60 L736.60 649.28 L737.10 648.96 L737.60 648.64 L738.10 648.31 L738.60 647.99 L739.10 647.67 L739.60 647.35 L740.10 647.03 L740.60 646.70 L741.10 646.38 L741.60 646.06 L742.10 645.74 L742.60 645.41 L743.10 645.09 L743.60 644.77 L744.10 644.45 L744.60 644.13 L745.10 643.80 L745.60 643.48 L746.10 643.16 L746.60 642.84 L747.10 642.51 L747.60 642.19 L748.10 641.87 L748.60 641.55 L749.10 641.23 L749.60 640.90 L750.10 640.58 L750.60 640.26 L751.10 639.94 L751.60 639.61 L752.10 639.29 L752.60 638.97 L753.10 638.65 L753.60 638.33 L754.10 638.00 L754.60 637.68 L755.10 637.36 L755.60 637.04 L756.10 636.71 L756.60 636.39 L757.10 636.07 L757.60 635.75 L758.10 635.42 L758.60 635.10 L759.10 634.78 L759.60 634.46 L760.10 634.14 L760.60 633.81 L761.10 633.49 L761.60 633.17 L762.10 632.85 L762.60 632.52 L763.10 632.20 L763.60 631.88 L764.10 631.56 L764.60 631.24 L765.10 630.91 L765.60 630.59 L766.10 630.27 L766.60 629.95 L767.10 629.62 L767.60 629.30 L768.10 628.98 L768.60 628.66 L769.10 628.34 L769.60 628.01 L770.10 627.69 L770.60 627.37 L771.10 627.05 L771.60 626.72 L772.10 626.40 L772.60 626.08 L773.10 625.76 L773.60 625.44 L774.10 625.11 L774.60 624.79 L775.10 624.47 L775.60 624.15 L776.10 623.82 L776.60 623.50 L777.10 623.18 L777.60 622.86 L778.10 622.53 L778.60 622.21 L779.10 621.89 L779.60 621.57 L780.10 621.25 L780.60 620.92 L781.10 620.60 L781.60 620.28 L782.10 619.96 L782.60 619.63 L783.10 619.31 L783.60 618.99 L784.10 618.67 L784.60 618.35 L785.10 618.02 L785.60 617.70 L786.10 617.38 L786.60 617.06 L787.10 616.73 L787.60 616.41 L788.10 616.09 L788.60 615.77 L789.10 615.45 L789.60 615.12 L790.10 614.80 L790.60 614.48 L791.10 614.16 L791.60 613.83 L792.10 613.51 L792.60 613.19 L793.10 612.87 L793.60 612.55 L794.10 612.22 L794.60 611.90 L795.10 611.58 L795.60 611.26 L796.10 610.93 L796.60 610.61 L797.10 610.29 L797.60 609.97 L798.10 609.64 L798.60 609.32 L799.10 609.00 L799.60 608.68 L800.10 608.36 L800.60 608.03 L801.10 607.71 L801.60 607.39 L802.10 607.07 L802.60 606.74 L803.10 606.42 L803.60 606.10 L804.10 605.78 L804.60 605.46 L805.10 605.13 L805.60 604.81 L806.10 604.49 L806.60 604.17 L807.10 603.84 L807.60 603.52 L808.10 603.20 L808.60 602.88 L809.10 602.56 L809.60 602.23 L810.10 601.91 L810.60 601.59 L811.10 601.27 L811.60 600.94 L812.10 600.62 L812.60 600.30 L813.10 599.98 L813.60 599.66 L814.10 599.33 L814.60 599.01 L815.10 598.69 L815.60 598.37 L816.10 598.04 L816.60 597.72 L817.10 597.40 L817.60 597.08 L818.10 596.75 L818.60 596.43 L819.10 596.11 L819.60 595.79 L820.10 595.47 L820.60 595.14 L821.10 594.82 L821.60 594.50 L822.10 594.18 L822.60 593.85 L823.10 593.53 L823.60 593.21 L824.10 592.89 L824.60 592.57 L825.10 592.24 L825.60 591.92 L826.10 591.60 L826.60 591.28 L827.10 590.95 L827.60 590.63 L828.10 590.31 L828.60 589.99 L829.10 589.67 L829.60 589.34 L830.10 589.02 L830.60 588.70 L831.10 588.38 L831.60 588.05 L832.10 587.73 L832.60 587.41 L833.10 587.09 L833.60 586.77 L834.10 586.44 L834.60 586.12 L835.10 585.80 L835.60 585.48 L836.10 585.15 L836.60 584.83 L837.10 584.51 L837.60 584.19 L838.10 583.86 L838.60 583.54 L839.10 583.22 L839.60 582.90" fill="none" stroke="#008000" stroke-width="3.3" stroke-dasharray="19.2 16.0" stroke-dashoffset="17.48"/>
<polygon points="209.50,468.20 202.40,472.30 202.40,480.50 209.50,484.60 216.60,480.50 216.60,472.30" fill="#800080"/>
<polygon points="255.00,475.70 247.90,479.80 247.90,488.00 255.00,492.10 262.10,488.00 262.10,479.80" fill="#800080"/>
<polygon points="300.10,403.00 293.00,407.10 293.00,415.30 300.10,419.40 307.20,415.30 307.20,407.10" fill="#800080"/>
<polygon points="345.20,395.40 338.10,399.50 338.10,407.70 345.20,411.80 352.30,407.70 352.30,399.50" fill="#800080"/>
<polygon points="390.90,390.80 383.80,394.90 383.80,403.10 390.90,407.20 398.00,403.10 398.00,394.90" fill="#800080"/>
<polygon points="436.00,387.30 428.90,391.40 428.90,399.60 436.00,403.70 443.10,399.60 443.10,391.40" fill="#800080"/>
<polygon points="572.00,353.80 564.90,357.90 564.90,366.10 572.00,370.20 579.10,366.10 579.10,357.90" fill="#800080"/>
<rect x="209.6" y="511.45" width="40.4" height="5.1" fill="#ff0000"/>
<polygon points="233.3,514.0 272.9,504.3 272.9,523.7" fill="#ff0000"/>
<polygon points="272.9,504.3 312.5,514.0 272.9,523.7" fill="#2ec3c9"/>
<polygon points="331.7,504.3 292.1,514.0 331.7,523.7" fill="#2ec3c9"/>
<rect x="280" y="511.45" width="45" height="5.1" fill="#2ec3c9"/>
<polygon points="327.1,504.3 366.7,514.0 327.1,523.7" fill="#0000ff"/>
<rect x="340" y="511.45" width="277.4" height="5.1" fill="#0000ff"/>
<rect x="632.8" y="511.45" width="10.2" height="5.1" fill="#0000ff"/>
<rect x="666.3" y="511.45" width="10.3" height="5.1" fill="#0000ff"/>
<rect x="699.9" y="511.45" width="10.1" height="5.1" fill="#0000ff"/>
<rect x="733.4" y="511.45" width="6.4" height="5.1" fill="#0000ff"/>
<g transform="translate(167.34 362.30)"><text x="0.00" y="0" font-size="32.6" fill="#800080" transform="scale(1 1.07)" stroke="#800080" stroke-width="0.35">20</text></g>
<g transform="translate(185.47 424.30)"><text x="0.00" y="0" font-size="32.6" fill="#800080" transform="scale(1 1.07)" stroke="#800080" stroke-width="0.35">0</text></g>
<g transform="translate(156.48 486.30)"><text x="0.00" y="0" font-size="32.6" fill="#800080" transform="scale(1 1.07)" stroke="#800080" stroke-width="0.35">-20</text></g>
<g transform="translate(126.40 829.70)"><path d="M763 0H583V1147Q518 1085 412.5 1023T223 930V1104Q374 1175 487 1276T647 1472H763Z" fill="#ff0000" stroke="#ff0000" stroke-width="25.0" transform="translate(0.00 0) scale(0.01401 -0.01401)"/><text x="15.96" y="0" font-size="28.7" fill="#ff0000" transform="scale(1 1.07)" stroke="#ff0000" stroke-width="0.35">x</text><path d="M763 0H583V1147Q518 1085 412.5 1023T223 930V1104Q374 1175 487 1276T647 1472H763Z" fill="#ff0000" stroke="#ff0000" stroke-width="25.0" transform="translate(30.31 0) scale(0.01401 -0.01401)"/><text x="46.28" y="0" font-size="28.7" fill="#ff0000" transform="scale(1 1.07)" stroke="#ff0000" stroke-width="0.35">0</text></g>
<g transform="translate(189.14 818.30)"><text x="0.00" y="0" font-size="19.2" fill="#ff0000" transform="scale(1 1.07)" stroke="#ff0000" stroke-width="0.35">5</text></g>
<g transform="translate(126.40 683.70)"><text x="0.00" y="0" font-size="28.7" fill="#ff0000" transform="scale(1 1.07)" stroke="#ff0000" stroke-width="0.35">2x</text><path d="M763 0H583V1147Q518 1085 412.5 1023T223 930V1104Q374 1175 487 1276T647 1472H763Z" fill="#ff0000" stroke="#ff0000" stroke-width="25.0" transform="translate(30.31 0) scale(0.01401 -0.01401)"/><text x="46.28" y="0" font-size="28.7" fill="#ff0000" transform="scale(1 1.07)" stroke="#ff0000" stroke-width="0.35">0</text></g>
<g transform="translate(189.14 672.30)"><text x="0.00" y="0" font-size="19.2" fill="#ff0000" transform="scale(1 1.07)" stroke="#ff0000" stroke-width="0.35">5</text></g>
<g transform="translate(126.40 537.70)"><text x="0.00" y="0" font-size="28.7" fill="#ff0000" transform="scale(1 1.07)" stroke="#ff0000" stroke-width="0.35">3x</text><path d="M763 0H583V1147Q518 1085 412.5 1023T223 930V1104Q374 1175 487 1276T647 1472H763Z" fill="#ff0000" stroke="#ff0000" stroke-width="25.0" transform="translate(30.31 0) scale(0.01401 -0.01401)"/><text x="46.28" y="0" font-size="28.7" fill="#ff0000" transform="scale(1 1.07)" stroke="#ff0000" stroke-width="0.35">0</text></g>
<g transform="translate(189.14 526.30)"><text x="0.00" y="0" font-size="19.2" fill="#ff0000" transform="scale(1 1.07)" stroke="#ff0000" stroke-width="0.35">5</text></g>
<g transform="translate(184.84 973.10)"><text x="0.00" y="0" font-size="28.7" fill="#ff0000" transform="scale(1 1.07)" stroke="#ff0000" stroke-width="0.35">0</text></g>
<g transform="translate(181.58 996.90)"><text x="0.00" y="0" font-size="29.1" fill="#000" transform="scale(1 1.07)" stroke="#000" stroke-width="0.35">0.00</text></g>
<g transform="translate(408.23 996.90)"><text x="0.00" y="0" font-size="29.1" fill="#000" transform="scale(1 1.07)" stroke="#000" stroke-width="0.35">0.05</text></g>
<g transform="translate(634.88 996.90)"><text x="0.00" y="0" font-size="29.1" fill="#000" transform="scale(1 1.07)" stroke="#000" stroke-width="0.35">0.</text><path d="M763 0H583V1147Q518 1085 412.5 1023T223 930V1104Q374 1175 487 1276T647 1472H763Z" fill="#000" stroke="#000" stroke-width="24.6" transform="translate(24.27 0) scale(0.01421 -0.01421)"/><text x="40.45" y="0" font-size="29.1" fill="#000" transform="scale(1 1.07)" stroke="#000" stroke-width="0.35">0</text></g>
<text x="568.9" y="1022.6" font-size="37" font-style="italic" fill="#000" text-anchor="middle" stroke="#000" stroke-width="0.35">x</text>
<text transform="translate(249.3 643.8) rotate(-90)" font-size="30" fill="#ff0000" stroke="#ff0000" stroke-width="0.35">insulator</text>
<text transform="translate(360.3 676.2) rotate(-90)" font-size="30" fill="#0000ff" stroke="#0000ff" stroke-width="0.35">helimagnet</text>
<text transform="translate(311.6 546.2) rotate(-90)" font-size="30" fill="#2ec3c9" stroke="#2ec3c9" stroke-width="0.35">?</text>
<text transform="translate(256.2 782.9) rotate(-90)" font-size="30" fill="#ff0000" stroke="#ff0000" stroke-width="0.35"><tspan font-style="italic">x</tspan><tspan font-size="20" dy="7.4">MIT</tspan></text>
<text transform="translate(353.0 783.0) rotate(-90)" font-size="30" fill="#0000ff" stroke="#0000ff" stroke-width="0.35"><tspan font-style="italic">x</tspan><tspan font-size="20" dy="7.8">LRO</tspan></text>
<text transform="translate(102.0 462.6) rotate(-90) skewX(-8)" font-size="39.5" fill="#800080" class="se" font-style="italic" stroke="none">&#920;</text>
<text transform="translate(112.4 437.0) rotate(-90)" font-size="26" fill="#800080" stroke="#800080" stroke-width="0.35">CW</text>
<text transform="translate(101.4 382.4) rotate(-90) scale(1.03 1)" font-size="37" fill="#800080" stroke="#800080" stroke-width="0.35">[K]</text>
<text transform="translate(107.1 817.2) rotate(-90) scale(1.15 1)" font-size="35" fill="#ff0000" font-style="italic" stroke="none">&#963;</text>
<text transform="translate(117.0 796.8) rotate(-90)" font-size="26" fill="#ff0000" stroke="#ff0000" stroke-width="0.35">0</text>
<text transform="translate(106.8 772.2) rotate(-90)" font-size="38" fill="#ff0000" stroke="#ff0000" stroke-width="0.35">[</text>
<text transform="translate(106.8 762.3) rotate(-90)" font-size="38" fill="#ff0000" stroke="#ff0000" stroke-width="0.35">(</text>
<text transform="translate(106.8 749.6) rotate(-90) scale(1.04 1)" font-size="40" fill="#ff0000" class="se" stroke="none">&#937;</text>
<text transform="translate(106.8 720.0) rotate(-90)" font-size="38" fill="#ff0000" stroke="#ff0000" stroke-width="0.35">m</text>
<text transform="translate(106.8 687.2) rotate(-90)" font-size="38" fill="#ff0000" stroke="#ff0000" stroke-width="0.35">)</text>
<g transform="translate(90.80 676.20) rotate(-90)"><text x="0.00" y="0" font-size="26" fill="#ff0000" transform="scale(1 1.07)" stroke="#ff0000" stroke-width="0.35">-</text><path d="M763 0H583V1147Q518 1085 412.5 1023T223 930V1104Q374 1175 487 1276T647 1472H763Z" fill="#ff0000" stroke="#ff0000" stroke-width="27.6" transform="translate(8.66 0) scale(0.01270 -0.01270)"/></g>
<text transform="translate(106.8 651.9) rotate(-90)" font-size="38" fill="#ff0000" stroke="#ff0000" stroke-width="0.35">]</text>
</svg></body></html>
